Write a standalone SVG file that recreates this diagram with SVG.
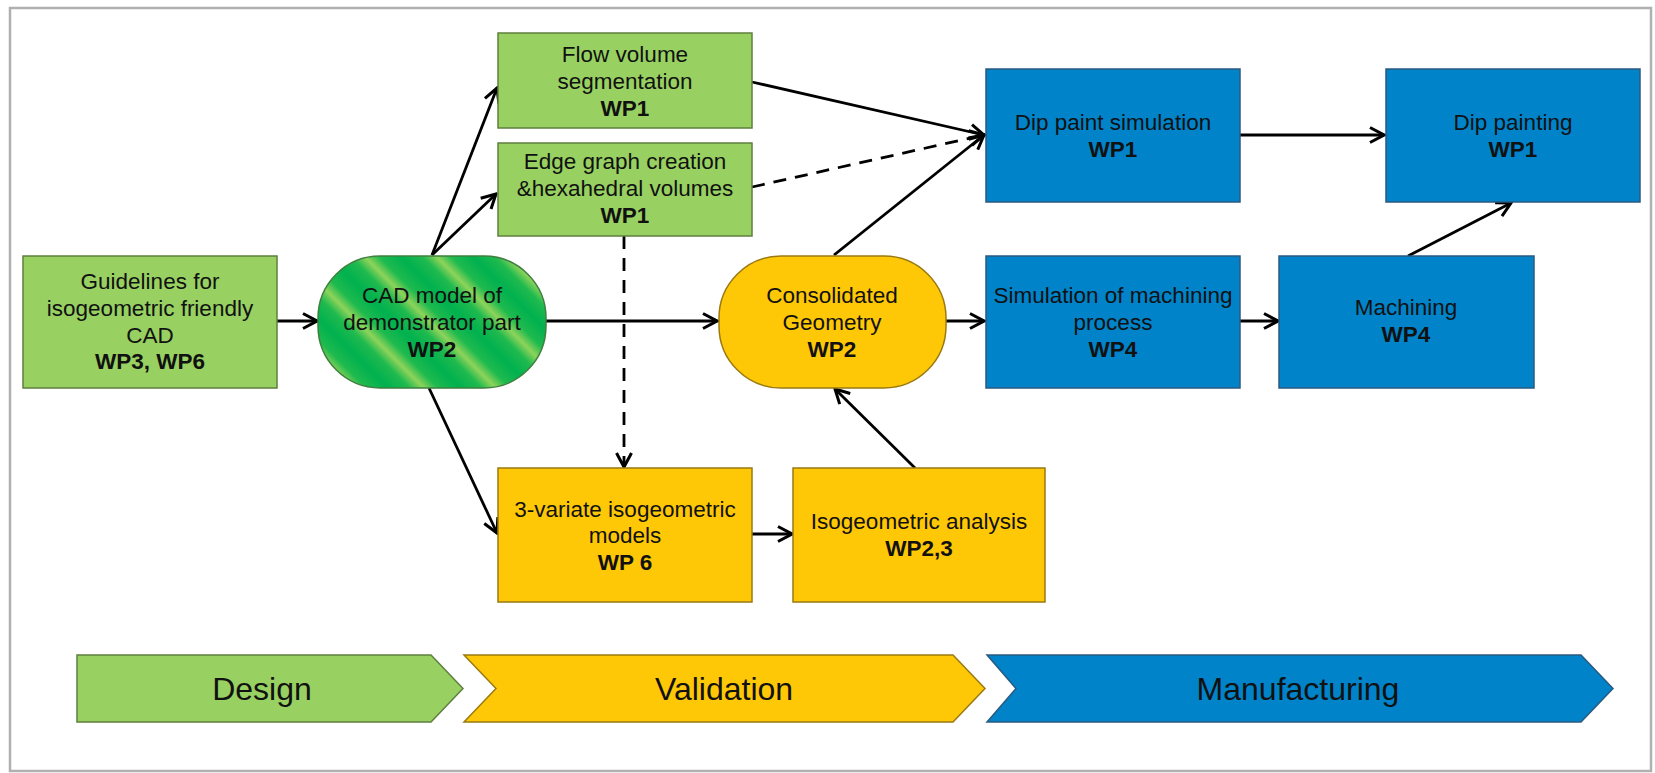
<svg xmlns="http://www.w3.org/2000/svg" width="1655" height="773" viewBox="0 0 1655 773">
<style>
text{font-family:"Liberation Sans",Arial,sans-serif;font-size:22.5px;fill:#111;text-anchor:middle}
.b{font-weight:bold}
.big{font-size:32px}
.g{fill:#98D161;stroke:#5f7f3f;stroke-width:1.5}
.y{fill:#FFC806;stroke:#9a7a10;stroke-width:1.5}
.u{fill:#0083C9;stroke:#2a5a80;stroke-width:1.5}
.c{fill:none;stroke:#000;stroke-width:2.8;marker-end:url(#ah)}
.d{stroke-dasharray:13 9}
</style>
<defs>
<marker id="ah" viewBox="0 0 18 18" refX="16" refY="9" markerWidth="18" markerHeight="18" markerUnits="userSpaceOnUse" orient="auto">
<path d="M2,1.5 L16,9 L2,16.5" fill="none" stroke="#000" stroke-width="3"/>
</marker>
<linearGradient id="stripe" x1="0" y1="0" x2="18" y2="-18" gradientUnits="userSpaceOnUse" spreadMethod="reflect">
<stop offset="0" stop-color="#00B14F"/>
<stop offset="0.6" stop-color="#1FBA4E"/>
<stop offset="1" stop-color="#8ED35A"/>
</linearGradient>
</defs>
<rect x="10" y="8" width="1641" height="763" fill="#fff" stroke="#b0b0b0" stroke-width="2.5"/>

<g id="connectors">
<line class="c" x1="277" y1="321" x2="317" y2="321"/>
<line class="c" x1="432" y1="255" x2="497" y2="88"/>
<line class="c" x1="432" y1="255" x2="496" y2="194"/>
<line class="c" x1="546" y1="321" x2="717" y2="321"/>
<line class="c" x1="429" y1="388" x2="497" y2="533"/>
<line class="c d" x1="624" y1="236" x2="624" y2="467"/>
<line class="c" x1="752" y1="82" x2="984" y2="135"/>
<line class="c d" x1="752" y1="187" x2="984" y2="135"/>
<line class="c" x1="834" y1="255" x2="984" y2="135"/>
<line class="c" x1="752" y1="534" x2="792" y2="534"/>
<line class="c" x1="915" y1="468" x2="835" y2="389"/>
<line class="c" x1="946" y1="321" x2="984" y2="321"/>
<line class="c" x1="1240" y1="135" x2="1384" y2="135"/>
<line class="c" x1="1240" y1="321" x2="1278" y2="321"/>
<line class="c" x1="1408" y1="256" x2="1511" y2="203"/>
</g>

<g id="guidelines">
<rect class="g" x="23" y="256" width="254" height="132"/>
<text x="150" y="289">Guidelines for</text>
<text x="150" y="316">isogeometric friendly</text>
<text x="150" y="343">CAD</text>
<text x="150" y="369" class="b">WP3, WP6</text>
</g>

<g id="cad">
<rect x="318" y="256" width="228" height="132" rx="62" ry="62" fill="url(#stripe)" stroke="#3f7f3f" stroke-width="1.5"/>
<text x="432" y="303">CAD model of</text>
<text x="432" y="330">demonstrator part</text>
<text x="432" y="357" class="b">WP2</text>
</g>

<g id="flow">
<rect class="g" x="498" y="33" width="254" height="95"/>
<text x="625" y="62">Flow volume</text>
<text x="625" y="89">segmentation</text>
<text x="625" y="116" class="b">WP1</text>
</g>

<g id="edge">
<rect class="g" x="498" y="143" width="254" height="93"/>
<text x="625" y="169">Edge graph creation</text>
<text x="625" y="196">&amp;hexahedral volumes</text>
<text x="625" y="223" class="b">WP1</text>
</g>

<g id="consolidated">
<rect class="y" x="719" y="256" width="227" height="132" rx="62" ry="62"/>
<text x="832" y="303">Consolidated</text>
<text x="832" y="330">Geometry</text>
<text x="832" y="357" class="b">WP2</text>
</g>

<g id="trivariate">
<rect class="y" x="498" y="468" width="254" height="134"/>
<text x="625" y="517">3-variate isogeometric</text>
<text x="625" y="543">models</text>
<text x="625" y="570" class="b">WP 6</text>
</g>

<g id="analysis">
<rect class="y" x="793" y="468" width="252" height="134"/>
<text x="919" y="529">Isogeometric analysis</text>
<text x="919" y="556" class="b">WP2,3</text>
</g>

<g id="dipsim">
<rect class="u" x="986" y="69" width="254" height="133"/>
<text x="1113" y="130">Dip paint simulation</text>
<text x="1113" y="157" class="b">WP1</text>
</g>

<g id="dippaint">
<rect class="u" x="1386" y="69" width="254" height="133"/>
<text x="1513" y="130">Dip painting</text>
<text x="1513" y="157" class="b">WP1</text>
</g>

<g id="machsim">
<rect class="u" x="986" y="256" width="254" height="132"/>
<text x="1113" y="303">Simulation of machining</text>
<text x="1113" y="330">process</text>
<text x="1113" y="357" class="b">WP4</text>
</g>

<g id="machining">
<rect class="u" x="1279" y="256" width="255" height="132"/>
<text x="1406" y="315">Machining</text>
<text x="1406" y="342" class="b">WP4</text>
</g>

<g id="design">
<polygon class="g" points="77,655 431,655 463,688.5 431,722 77,722"/>
<text x="262" y="700" class="big">Design</text>
</g>
<g id="validation">
<polygon class="y" points="464,655 953,655 985,688.5 953,722 464,722 496,688.5"/>
<text x="724" y="700" class="big">Validation</text>
</g>
<g id="manufacturing">
<polygon class="u" points="987,655 1581,655 1613,688.5 1581,722 987,722 1016,688.5"/>
<text x="1298" y="700" class="big">Manufacturing</text>
</g>
</svg>
